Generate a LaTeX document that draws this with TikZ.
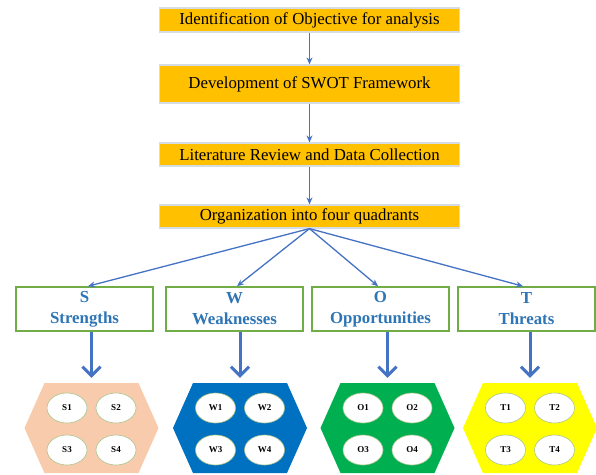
\documentclass[tikz,border=0pt]{standalone}
\usepackage{fontspec}
\setmainfont{Liberation Serif}
\usetikzlibrary{arrows.meta,calc,shapes.geometric}
\definecolor{stepfill}{HTML}{FFC000}
\definecolor{stepedge}{HTML}{D6DCE4}
\definecolor{quadedge}{HTML}{70AD47}
\definecolor{quadtext}{HTML}{2E75B6}
\definecolor{linkblue}{HTML}{4472C4}
\definecolor{peach}{HTML}{F8CBAD}
\definecolor{wblue}{HTML}{0070C0}
\definecolor{ogreen}{HTML}{00B050}
\definecolor{tyellow}{HTML}{FFFF00}
\definecolor{ovaledge}{HTML}{A9C48B}
\begin{document}
\begin{tikzpicture}[x=1pt,y=-1pt,
  stepbox/.style={fill=stepfill, draw=stepedge, line width=1.2pt,
    minimum width=300pt, inner sep=0pt,
    font=\fontsize{16.8}{18}\selectfont},
  quadbox/.style={draw=quadedge, line width=1.6pt, fill=white,
    minimum width=137pt, minimum height=44pt, inner sep=0pt,
    align=center, text=quadtext,
    font=\bfseries\fontsize{16.8}{21}\selectfont},
  hexa/.style={minimum width=134pt, minimum height=90pt, inner sep=0pt,
    path picture={\fill[#1]
      ([xshift=20pt]path picture bounding box.north west) --
      ([xshift=-20pt]path picture bounding box.north east) --
      (path picture bounding box.east) --
      ([xshift=-20pt]path picture bounding box.south east) --
      ([xshift=20pt]path picture bounding box.south west) --
      (path picture bounding box.west) -- cycle;}},
  oval/.style={ellipse, draw=ovaledge, line width=0.6pt, fill=white,
    minimum width=40pt, minimum height=30pt, inner sep=0pt,
    font=\bfseries\fontsize{9}{10}\selectfont},
  link/.style={draw=linkblue, line width=1.3pt,
    -{Stealth[length=7pt,width=6pt]}},
  bigarrow/.style={draw=linkblue, line width=3pt,
    -{Straight Barb[length=9pt,width=18pt]}}
]
\useasboundingbox (0,0) rectangle (596,474);
\fill[white] (0,0) rectangle (596,474);

% process steps
\node[stepbox, minimum height=24pt] (obj)  at (309.5,20)  {Identification of Objective for analysis};
\node[stepbox, minimum height=38pt] (swot) at (309.5,84)  {Development of SWOT Framework};
\node[stepbox, minimum height=23pt] (lit)  at (309.5,154.5) {Literature Review and Data Collection};
\node[stepbox, minimum height=23pt] (org)  at (309.5,216.5) {Organization into four quadrants};

\draw[link] (obj) -- (swot);
\draw[link] (swot) -- (lit);
\draw[link] (lit) -- (org);

% quadrants
\node[quadbox] (sq) at (84.5,309)  {S\\Strengths};
\node[quadbox] (wq) at (234.5,309) {W\\Weaknesses};
\node[quadbox] (oq) at (380.5,309) {O\\Opportunities};
\node[quadbox] (tq) at (526.5,309) {T\\Threats};

\draw[link] (org.south) -- ([xshift=3.5pt]sq.north);
\draw[link] (org.south) -- ([xshift=2.5pt]wq.north);
\draw[link] (org.south) -- ([xshift=-2.5pt]oq.north);
\draw[link] (org.south) -- ([xshift=-3.5pt]tq.north);

% factor groups
\node[hexa=peach]   (sh) at (91.5,428) {};
\node[hexa=wblue]   (wh) at (240,428)  {};
\node[hexa=ogreen]  (oh) at (387.5,428) {};
\node[hexa=tyellow] (th) at (530,428)  {};

\foreach \h/\l in {sh/S, wh/W, oh/O, th/T} {
  \node[oval] (\h1) at ($(\h)+(-24.5,-20)$) {\l1};
  \node[oval] (\h2) at ($(\h)+(24.5,-20)$)  {\l2};
  \node[oval] (\h3) at ($(\h)+(-24.5,22)$)  {\l3};
  \node[oval] (\h4) at ($(\h)+(24.5,22)$)   {\l4};
}

\draw[bigarrow] (sq.south -| sh.north) -- ([yshift=5pt]sh.north);
\draw[bigarrow] (wq.south -| wh.north) -- ([yshift=5pt]wh.north);
\draw[bigarrow] (oq.south -| oh.north) -- ([yshift=5pt]oh.north);
\draw[bigarrow] (tq.south -| th.north) -- ([yshift=5pt]th.north);
\end{tikzpicture}
\end{document}
